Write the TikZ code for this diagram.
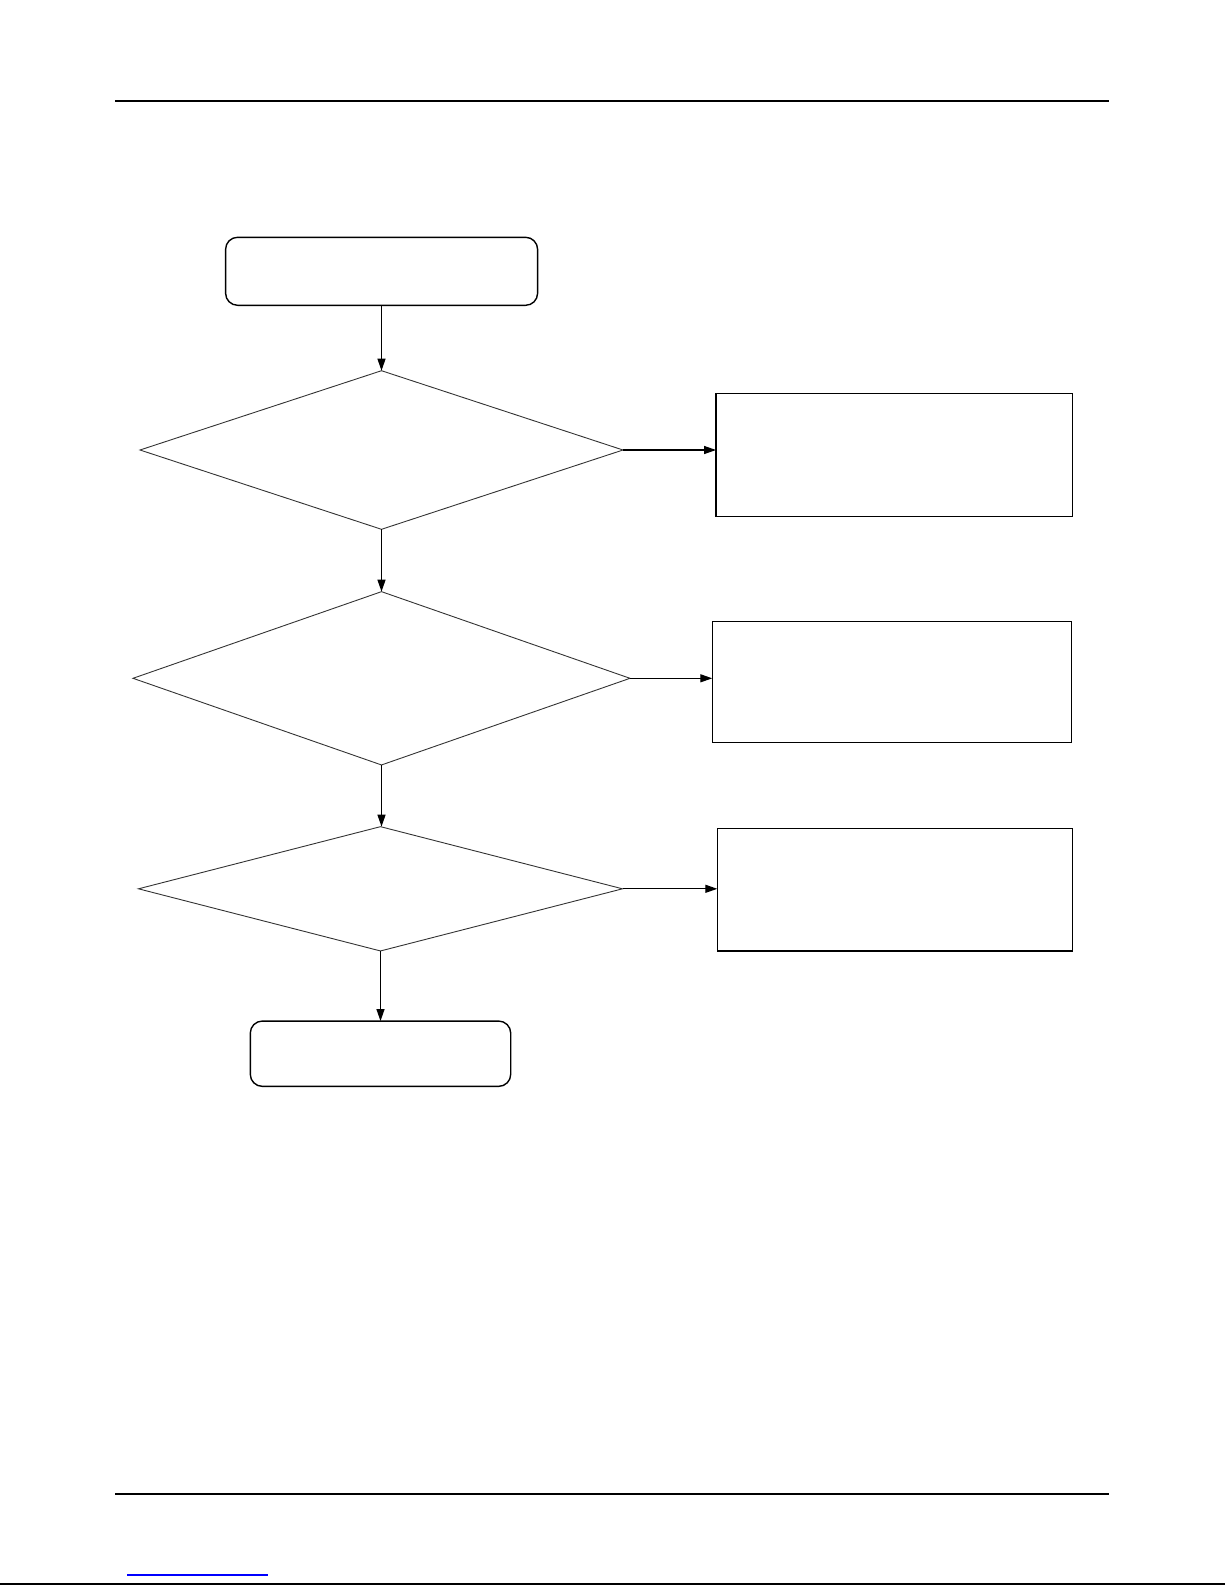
\documentclass[tikz,border=0pt]{standalone}
\usetikzlibrary{shapes.geometric,arrows.meta}
\begin{document}
\begin{tikzpicture}[x=1pt,y=-1pt,
  roundbox/.style={draw,line width=1.4pt,rounded corners=12pt,inner sep=0pt,outer sep=0pt},
  plainbox/.style={draw,line width=1.5pt,inner sep=0pt,outer sep=0pt},
  decision/.style={draw=black!80,line width=0.9pt,diamond,inner sep=0pt,outer sep=0pt},
  flow/.style={line width=1.3pt,-{Triangle[length=12pt,width=8pt]}},
  rule/.style={line width=2pt}]
\useasboundingbox (0,0) rectangle (1225,1585);
% header / footer rules
\coordinate (tl) at (115,101.3);
\coordinate (tr) at (1109.3,101.3);
\draw[rule] (tl) -- (tr);
\coordinate (bl) at (115,1494);
\coordinate (br) at (1109.3,1494);
\draw[rule] (bl) -- (br);
\coordinate (ll) at (127,1575);
\coordinate (lr) at (268,1575);
\draw[line width=1.3pt,blue] (ll) -- (lr);
\coordinate (fl) at (0,1584);
\coordinate (fr) at (1225,1584);
\draw[line width=1.5pt] (fl) -- (fr);
% nodes
\node[roundbox,minimum width=312pt,minimum height=68pt] (start) at (381.6,271.3) {};
\node[decision,minimum width=483pt,minimum height=158.6pt] (d1) at (381.5,450) {};
\node[decision,minimum width=497pt,minimum height=173.3pt] (d2) at (381.5,678.3) {};
\node[decision,minimum width=484pt,minimum height=124.3pt] (d3) at (380.5,888.8) {};
\node[roundbox,minimum width=260.4pt,minimum height=65.3pt] (stop) at (380.5,1053.7) {};
\node[plainbox,minimum width=356.3pt,minimum height=123pt] (b1) at (894.2,454.8) {};
\node[plainbox,minimum width=359.2pt,minimum height=121pt] (b2) at (891.9,681.8) {};
\node[plainbox,minimum width=355.4pt,minimum height=122.7pt] (b3) at (895,889.7) {};
% connectors
\draw[flow] (start.south -| d1.north) -- (d1.north);
\draw[flow] (d1.south) -- (d2.north);
\draw[flow] (d2.south) -- (d2.south |- d3.north);
\draw[flow] (d3.south) -- (d3.south |- stop.north);
\draw[flow] (d1.east) -- (d1.east -| b1.west);
\draw[flow] (d2.east) -- (d2.east -| b2.west);
\draw[flow] (d3.east) -- (d3.east -| b3.west);
\end{tikzpicture}
\end{document}
